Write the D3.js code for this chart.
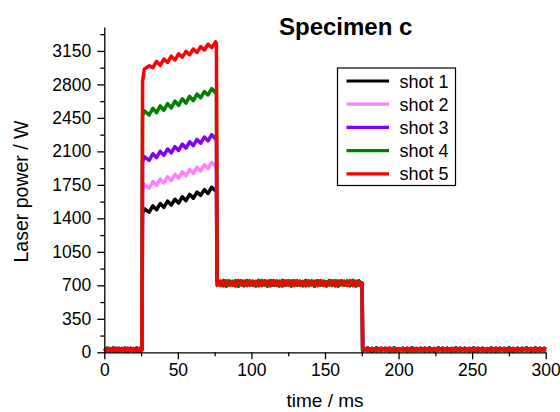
<!DOCTYPE html>
<html>
<head>
<meta charset="UTF-8">
<style>
  body { margin: 0; background: #fff; }
  svg { display: block; }
  text { font-family: "Liberation Sans", Arial, sans-serif; fill: #000; }
  .axis path, .axis line { stroke: #000; stroke-width: 1.3px; }
  .trace { fill: none; stroke-width: 3.5px; stroke-linejoin: round; }
</style>
</head>
<body>
<svg></svg>
<script src="https://d3js.org/d3.v7.min.js"></script>
<script>

// legend / series
let shots = ["shot 1", "shot 2", "shot 3", "shot 4", "shot 5"];
let colors = ["#000000", "#ff80ff", "#7f00ff", "#008000", "#ff0000"];

// ticks
let xTicks = [0, 50, 100, 150, 200, 250, 300];
let yTicks = [0, 350, 700, 1050, 1400, 1750, 2100, 2450, 2800, 3150];

// sample times (ms) for each part of the pulse
let preT = [0, 2, 4, 6, 8, 10, 12, 14, 16, 18, 20, 22, 24, 25.6];
let platT = [26.0, 27.2, 30.5, 33, 35.5, 38, 40.5, 43, 45.5, 48, 50.5, 53, 55.5, 58, 60.5, 63, 65.5, 68, 70.5, 73, 75.5, 76.2];
let midT = [76.6, 79, 81, 83, 85, 87, 89, 91, 93, 95, 97, 99, 101, 103, 105, 107, 109, 111, 113, 115, 117, 119, 121, 123, 125,
            127, 129, 131, 133, 135, 137, 139, 141, 143, 145, 147, 149, 151, 153, 155, 157, 159, 161, 163, 165, 167, 169, 171, 173, 175.2];
let postT = [175.6, 179, 182, 185, 188, 191, 194, 197, 200, 203, 206, 209, 212, 215, 218, 221, 224, 227, 230, 233, 236, 239,
             242, 245, 248, 251, 254, 257, 260, 263, 266, 269, 272, 275, 278, 281, 284, 287, 290, 293, 296, 299, 300];

// baseline before the pulse (W)
let preA = [42, 15, 40, 14, 44, 16, 41, 13, 43, 18, 40, 15, 42, 25];
let preB = [15, 43, 17, 45, 14, 41, 18, 44, 15, 42, 16, 45, 14, 30];

// first plateau, one per shot (W)
let plat1 = [1450, 1500, 1465, 1530, 1490, 1555, 1515, 1580, 1540, 1600, 1560, 1625, 1585, 1650, 1610, 1675, 1640, 1700, 1660, 1725, 1690, 1720];
let plat2 = [1700, 1755, 1715, 1785, 1745, 1810, 1770, 1835, 1795, 1860, 1820, 1885, 1845, 1910, 1870, 1935, 1895, 1960, 1920, 1985, 1945, 1970];
let plat3 = [1990, 2045, 2005, 2075, 2035, 2100, 2060, 2125, 2085, 2150, 2110, 2175, 2135, 2200, 2160, 2225, 2185, 2250, 2210, 2275, 2235, 2260];
let plat4 = [2470, 2525, 2480, 2550, 2505, 2575, 2530, 2600, 2555, 2625, 2580, 2650, 2605, 2675, 2630, 2700, 2660, 2725, 2690, 2755, 2715, 2750];
let plat5 = [2830, 2960, 2995, 2975, 3040, 3000, 3065, 3030, 3095, 3055, 3120, 3085, 3145, 3110, 3170, 3135, 3195, 3160, 3220, 3185, 3245, 3230];

// second level (W)
let midA = [700, 745, 695, 748, 702, 742, 693, 750, 705, 744, 697, 747, 700, 741, 694, 749, 704, 745, 696, 750,
            699, 743, 692, 748, 703, 746, 698, 749, 701, 742, 695, 747, 704, 744, 697, 750, 699, 740, 702, 748,
            694, 746, 705, 743, 698, 749, 696, 742, 701, 725];
let midB = [745, 698, 750, 694, 744, 700, 748, 692, 746, 697, 749, 703, 742, 695, 750, 699, 745, 693, 747, 701,
            743, 696, 749, 700, 746, 694, 748, 702, 741, 697, 750, 699, 744, 693, 747, 704, 742, 696, 749, 700,
            745, 695, 748, 701, 743, 697, 750, 694, 746, 712];

// baseline after the pulse (W)
let postA = [45, 18, 42, 15, 44, 20, 46, 14, 40, 19, 45, 16, 43, 18, 46, 15, 41, 20, 44, 17, 42, 15, 46, 19, 43, 14, 45, 18,
             40, 16, 46, 20, 43, 15, 42, 18, 45, 19, 41, 16, 44, 20, 30];
let postB = [16, 44, 14, 46, 19, 42, 15, 45, 18, 43, 15, 46, 20, 41, 17, 44, 14, 45, 19, 42, 16, 46, 18, 43, 15, 44, 20, 41,
             17, 45, 14, 43, 19, 46, 16, 42, 18, 44, 15, 45, 20, 41, 28];

let platVals = [plat1, plat2, plat3, plat4, plat5];
let preVals = [preB, preA, preB, preB, preA];
let midVals = [midB, midA, midB, midB, midA];
let postVals = [postB, postA, postB, postB, postA];

let width = 560, height = 412;

let svg = d3.select("svg")
    .attr("width", width)
    .attr("height", height);

let x = d3.scaleLinear().domain([0, 300]).range([104.3, 545.7]);
let y = d3.scaleLinear().domain([0, 3400]).range([352.3, 27]);

// build point lists for each shot
let series = shots.map(function(name, i) {
    let pts = [];
    preT.forEach((t, j) => pts.push([t, preVals[i][j]]));
    platT.forEach((t, j) => pts.push([t, platVals[i][j]]));
    midT.forEach((t, j) => pts.push([t, midVals[i][j]]));
    postT.forEach((t, j) => pts.push([t, postVals[i][j]]));
    return { name: name, color: colors[i], points: pts };
});

let line = d3.line()
    .x(d => x(d[0]))
    .y(d => y(d[1]));

svg.append("g")
    .selectAll("path")
    .data(series)
    .enter()
    .append("path")
    .attr("class", "trace")
    .attr("stroke", d => d.color)
    .attr("d", d => line(d.points));

// axes
svg.append("g")
    .attr("class", "axis")
    .attr("transform", "translate(0," + y(0) + ")")
    .call(d3.axisBottom(x).tickValues(xTicks).tickFormat(d3.format("d")).tickSize(7).tickPadding(4).tickSizeOuter(0));

let xMinor = svg.append("g")
    .attr("class", "axis")
    .attr("transform", "translate(0," + y(0) + ")")
    .call(d3.axisBottom(x).tickValues([25, 75, 125, 175, 225, 275]).tickSize(4).tickFormat("").tickSizeOuter(0));
xMinor.select(".domain").remove();

svg.append("g")
    .attr("class", "axis")
    .attr("transform", "translate(" + x(0) + ",0)")
    .call(d3.axisLeft(y).tickValues(yTicks).tickFormat(d3.format("d")).tickSize(7).tickPadding(6).tickSizeOuter(0));

let yMinor = svg.append("g")
    .attr("class", "axis")
    .attr("transform", "translate(" + x(0) + ",0)")
    .call(d3.axisLeft(y).tickValues([175, 525, 875, 1225, 1575, 1925, 2275, 2625, 2975, 3325]).tickSize(4).tickFormat("").tickSizeOuter(0));
yMinor.select(".domain").remove();

svg.selectAll(".axis text")
    .style("font-size", "17.5px")
    .style("font-family", "'Liberation Sans', Arial, sans-serif");

// axis titles
svg.append("text")
    .attr("x", (x(0) + x(300)) / 2)
    .attr("y", 407)
    .attr("text-anchor", "middle")
    .style("font-size", "19px")
    .text("time / ms");

svg.append("text")
    .attr("transform", "translate(27.5,191.5) rotate(-90)")
    .attr("text-anchor", "middle")
    .style("font-size", "19.5px")
    .text("Laser power / W");

// title
svg.append("text")
    .attr("x", 279)
    .attr("y", 35)
    .style("font-size", "24px")
    .style("font-weight", "bold")
    .text("Specimen c");

// legend
let legend = svg.append("g").attr("transform", "translate(337.5,68)");

legend.append("rect")
    .attr("width", 118)
    .attr("height", 117.5)
    .attr("fill", "#fff")
    .attr("stroke", "#000")
    .attr("stroke-width", 1.2);

let rows = legend.selectAll("g.row")
    .data(series)
    .enter().append("g")
    .attr("class", "row")
    .attr("transform", (d, i) => "translate(0," + (13 + i * 23.2) + ")");

rows.append("line")
    .attr("x1", 9)
    .attr("x2", 51.5)
    .attr("stroke", d => d.color)
    .attr("stroke-width", 3.2);

rows.append("text")
    .attr("x", 62)
    .attr("y", 6.5)
    .style("font-size", "18px")
    .text(d => d.name);

</script>
</body>
</html>
